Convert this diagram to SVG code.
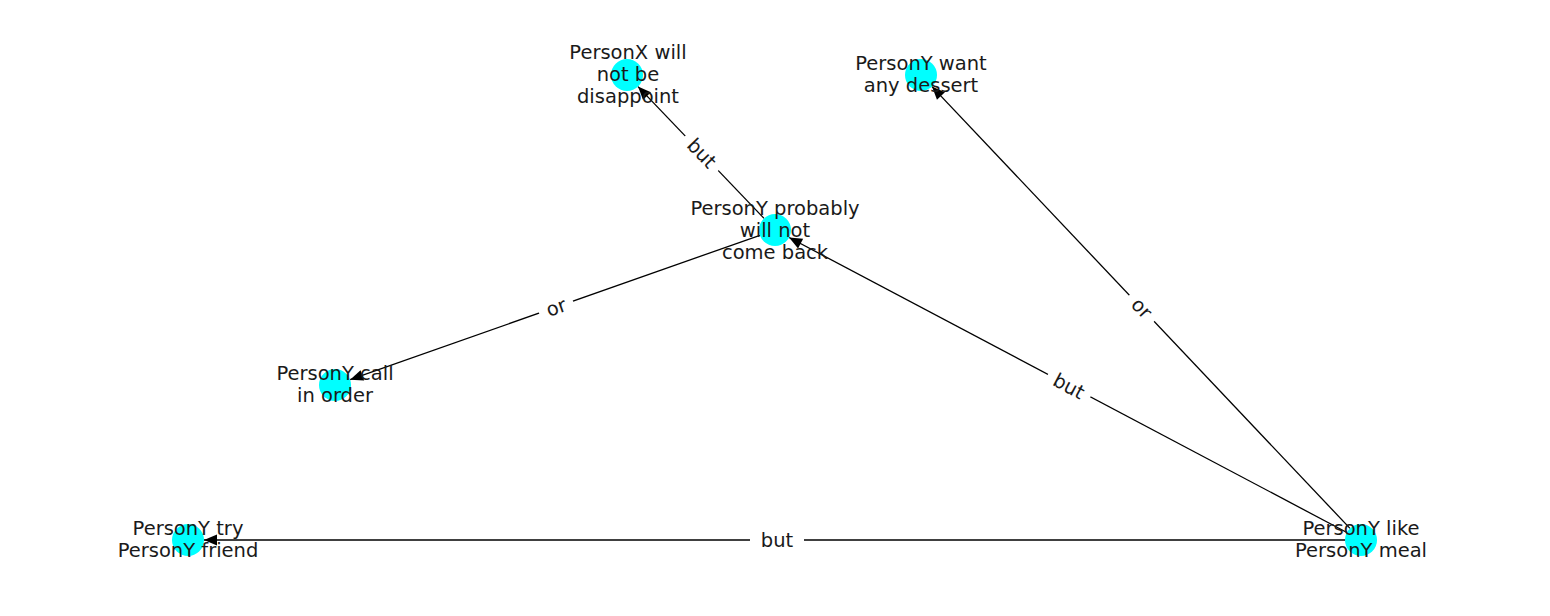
<svg xmlns="http://www.w3.org/2000/svg" width="1550" height="616" viewBox="0 0 1550 616">
<style>
  .edge { stroke: #000; stroke-width: 1.3; fill: none; marker-end: url(#arrow); }
  .node circle { fill: #00ffff; }
  .node text, .elabel text { font-family: "DejaVu Sans", sans-serif; font-size: 19.5px; fill: #1a1a1a; text-anchor: middle; }
  .elabel rect { fill: #ffffff; }
</style>
<defs>
  <marker id="arrow" markerUnits="userSpaceOnUse" viewBox="-14 -7 15 14" refX="0" refY="0" markerWidth="15" markerHeight="14" orient="auto" overflow="visible">
    <path d="M0,0 L-13,-5.5 L-13,5.5 Z" fill="#000"/>
  </marker>
</defs>
<rect width="1550" height="616" fill="#ffffff"/>
<g id="connectors">
  <line class="edge" x1="764" y1="218.4" x2="638" y2="86.6"/>
  <line class="edge" x1="1350" y1="528.4" x2="932" y2="86.6"/>
  <line class="edge" x1="759.9" y1="235.3" x2="350.1" y2="379.7"/>
  <line class="edge" x1="1346.9" y1="532.5" x2="789.1" y2="237.5"/>
  <line class="edge" x1="1345" y1="540" x2="204" y2="540"/>
</g>
<g id="nodes">
  <g id="n_personx_disappoint" class="node">
    <circle cx="627" cy="75" r="16"/>
    <text x="628" y="59">PersonX will</text>
    <text x="628" y="81">not be</text>
    <text x="628" y="103">disappoint</text>
  </g>
  <g id="n_persony_dessert" class="node">
    <circle cx="921" cy="75" r="16"/>
    <text x="921" y="70">PersonY want</text>
    <text x="921" y="92">any dessert</text>
  </g>
  <g id="n_persony_come_back" class="node">
    <circle cx="775" cy="230" r="16"/>
    <text x="775" y="215">PersonY probably</text>
    <text x="775" y="237">will not</text>
    <text x="775" y="259">come back</text>
  </g>
  <g id="n_persony_call" class="node">
    <circle cx="335" cy="385" r="16"/>
    <text x="335" y="380">PersonY call</text>
    <text x="335" y="402">in order</text>
  </g>
  <g id="n_persony_try" class="node">
    <circle cx="188" cy="540" r="16"/>
    <text x="188" y="535">PersonY try</text>
    <text x="188" y="557">PersonY friend</text>
  </g>
  <g id="n_persony_like" class="node">
    <circle cx="1361" cy="540" r="16"/>
    <text x="1361" y="535">PersonY like</text>
    <text x="1361" y="557">PersonY meal</text>
  </g>
</g>
<g id="edge-labels">
  <g class="elabel" transform="translate(702,153) rotate(46.3)">
    <rect x="-24" y="-13" width="48" height="26"/>
    <text x="0" y="7">but</text>
  </g>
  <g class="elabel" transform="translate(1142,308) rotate(46.6)">
    <rect x="-18" y="-13" width="36" height="26"/>
    <text x="0" y="7">or</text>
  </g>
  <g class="elabel" transform="translate(556,307) rotate(-19.4)">
    <rect x="-18" y="-13" width="36" height="26"/>
    <text x="0" y="7">or</text>
  </g>
  <g class="elabel" transform="translate(1069,386) rotate(27.9)">
    <rect x="-24" y="-13" width="48" height="26"/>
    <text x="0" y="7">but</text>
  </g>
  <g class="elabel" transform="translate(777,540)">
    <rect x="-27" y="-13" width="54" height="26"/>
    <text x="0" y="7">but</text>
  </g>
</g>
</svg>
